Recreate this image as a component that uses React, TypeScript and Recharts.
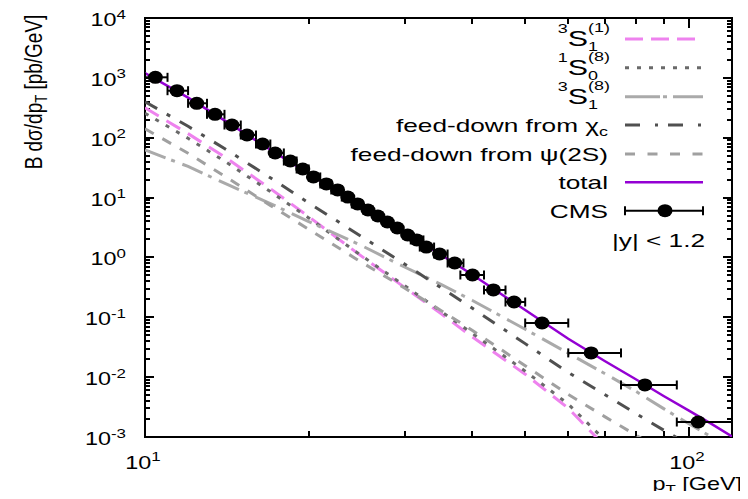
import React from "react";
import { ComposedChart, Line, Scatter, XAxis, YAxis, ErrorBar } from "recharts";

// ---- theory curves (pT grid, GeV) ----
const PT = [10, 12, 14, 17, 20, 25, 30, 35, 40, 50, 60, 70, 80, 90, 100, 110, 120];
const TOTAL = [1200, 468, 195, 63.1, 25.1, 7.08, 2.63, 1.11, 0.513, 0.132, 0.0437, 0.0186, 0.00912, 0.00479, 0.00275, 0.00166, 0.00102];
const CHIC = [400, 155, 66.1, 21.4, 8.13, 2.24, 0.776, 0.313, 0.141, 0.0363, 0.012, 0.00513, 0.00245, 0.00129, 0.00074, 0.000447, 0.000275];
const PSI2S = [141, 55.0, 22.9, 7.41, 2.95, 0.832, 0.309, 0.13, 0.0603, 0.0155, 0.00513, 0.00219, 0.00107, 0.000562, 0.000324, null, null];
const S31_8 = [62.4, 33.1, 17.4, 7.94, 3.98, 1.58, 0.692, 0.355, 0.191, 0.0631, 0.0251, 0.0115, 0.00575, 0.00295, 0.00166, 0.001, 0.000617];
const S31_1 = [316, 117, 47.9, 14.1, 4.79, 1.05, 0.316, 0.115, 0.0468, 0.0112, 0.00302, 0.000708, null, null, null, null, null];
const S10_8 = [257, 97.7, 40.7, 12.6, 4.57, 1.07, 0.339, 0.126, 0.0537, 0.0126, 0.00355, 0.000891, null, null, null, null, null];

// ---- CMS data, |y| < 1.2 ----
const CMS_PT = [10.45, 11.45, 12.45, 13.45, 14.45, 15.4, 16.45, 17.35, 18.5, 19.5, 20.4, 21.55, 22.6, 23.6, 24.6, 25.7, 26.8, 27.9, 29.1, 30.4, 31.6, 32.9, 34.8, 37.1, 40.0, 43.7, 47.7, 53.7, 66.1, 83.0, 104.0];
const CMS_Y = [1021, 610, 376, 246, 163, 111, 78.5, 55.6, 40.8, 30.0, 22.1, 16.9, 13.4, 10.2, 7.82, 6.2, 4.92, 3.91, 3.1, 2.37, 1.96, 1.49, 1.14, 0.807, 0.509, 0.286, 0.18, 0.0803, 0.0254, 0.0074, 0.00178];
const CMS_LO = [10, 11, 12, 13, 14, 15, 16, 17, 18, 19, 20, 21, 22, 23, 24, 25.2, 26.3, 27.4, 28.6, 29.9, 30.8, 32, 34, 36, 38, 42, 46, 50, 60, 75, 95];
const CMS_HI = [11, 12, 13, 14, 15, 16, 17, 18, 19, 20, 21, 22, 23, 24, 25, 26.2, 27.3, 28.4, 29.6, 30.9, 32.5, 34, 36, 38.5, 42, 46, 50, 60, 75, 95, 120];

// ---- axes ----
const X_DOMAIN = [10, 120];
const Y_DOMAIN = [0.001, 10000];
const X_TICKS = [10, 20, 30, 40, 50, 60, 70, 80, 90, 100];
const X_MAJOR = [10, 100];
const X_LABELS = ["1", "2"];
const Y_MAJOR = [0.001, 0.01, 0.1, 1, 10, 100, 1000, 10000];
const Y_LABELS = ["-3", "-2", "-1", "0", "1", "2", "3", "4"];
const Y_TICKS: number[] = [];
Y_MAJOR.forEach((d, i) => {
  Y_TICKS.push(d);
  if (i < Y_MAJOR.length - 1) for (let k = 2; k <= 9; k++) Y_TICKS.push(+(d * k).toPrecision(6));
});

const W = 748;
const H = 499;
const PLOT = { left: 145, right: 732, top: 18, bottom: 437 };
const FONT = "'Liberation Sans', Arial, Helvetica, sans-serif";
const SX = 1.3;
const LSX = 1.38;

const curveData = PT.map((pt, i) => ({
  pt,
  total: TOTAL[i],
  chic: CHIC[i],
  psi2s: PSI2S[i],
  s31_8: S31_8[i],
  s31_1: S31_1[i],
  s10_8: S10_8[i],
}));

const cmsData = CMS_PT.map((pt, i) => ({
  pt,
  y: CMS_Y[i],
  xerr: [+(pt - CMS_LO[i]).toFixed(3), +(CMS_HI[i] - pt).toFixed(3)],
}));

// log-axis pixel mapping for the frame tick marks (same domain/range as the chart axes)
const xPix = (v: number) =>
  PLOT.left + ((PLOT.right - PLOT.left) * Math.log10(v / X_DOMAIN[0])) / Math.log10(X_DOMAIN[1] / X_DOMAIN[0]);
const yPix = (v: number) =>
  PLOT.bottom - ((PLOT.bottom - PLOT.top) * Math.log10(v / Y_DOMAIN[0])) / Math.log10(Y_DOMAIN[1] / Y_DOMAIN[0]);

function XTickLabel(props: any) {
  const { x, payload } = props;
  const mi = X_MAJOR.findIndex((a) => Math.abs(a - payload.value) < 1e-9);
  if (mi < 0) return <g />;
  return (
    <text transform={`translate(${x - 2},${PLOT.bottom + 32}) scale(${SX},1)`} textAnchor="middle" fontFamily={FONT} fontSize={18} fill="#000">
      10<tspan fontSize={13} dy={-8}>{X_LABELS[mi]}</tspan>
    </text>
  );
}

function YTickLabel(props: any) {
  const { y, payload } = props;
  const mi = Y_MAJOR.findIndex((a) => Math.abs(a - payload.value) / a < 1e-6);
  if (mi < 0) return <g />;
  return (
    <text transform={`translate(${PLOT.left - 19},${y + 8}) scale(${SX},1)`} textAnchor="end" fontFamily={FONT} fontSize={18} fill="#000">
      10<tspan fontSize={13} dy={-7.5}>{Y_LABELS[mi]}</tspan>
    </text>
  );
}

const CmsDot = (p: any) => <ellipse cx={p.cx} cy={p.cy} rx={7.5} ry={6.5} fill="#000" />;

const LEG_X1 = 625;
const LEG_X2 = 703;
const LEG_TX = 608;
const ROWS = [39, 67.7, 96.7, 125, 154, 182.3, 210.7];

function SLabel({ y, pre, sub, sup }: { y: number; pre: string; sub: string; sup: string }) {
  return (
    <text transform={`translate(${LEG_TX + 2},${y + 7}) scale(${LSX},1)`} textAnchor="end" fontFamily={FONT} fontSize={19} fill="#000">
      <tspan fontSize={13} dy={-13}>{pre}</tspan>
      <tspan dy={13} fontSize={22}>S</tspan>
      <tspan fontSize={13} dy={5}>{sub}</tspan>
      <tspan fontSize={13} dx={-7.2} dy={-19}>{sup}</tspan>
    </text>
  );
}

function PlainLabel({ y, children, x = LEG_TX }: any) {
  return (
    <text transform={`translate(${x},${y + 7}) scale(${LSX},1)`} textAnchor="end" fontFamily={FONT} fontSize={19} fill="#000">
      {children}
    </text>
  );
}

function FrameTicks() {
  const isYMajor = (v: number) => Y_MAJOR.some((a) => Math.abs(a - v) / a < 1e-6);
  const marks: React.ReactNode[] = [];
  X_TICKS.forEach((v) => {
    const x = Math.round(xPix(v));
    const len = X_MAJOR.includes(v) ? 10 : 6;
    marks.push(<rect key={`xb${v}`} x={x - 1} y={PLOT.bottom - len} width={2} height={len} fill="#000" />);
    marks.push(<rect key={`xt${v}`} x={x - 1} y={PLOT.top} width={2} height={len} fill="#000" />);
  });
  Y_TICKS.forEach((v) => {
    const y = Math.round(yPix(v));
    const len = isYMajor(v) ? 9 : 5;
    marks.push(<rect key={`yl${v}`} x={PLOT.left} y={y - 1} width={len} height={2} fill="#000" />);
    marks.push(<rect key={`yr${v}`} x={PLOT.right - len} y={y - 1} width={len} height={2} fill="#000" />);
  });
  return <g>{marks}</g>;
}

function Overlay() {
  const sample = (y: number, stroke: string, dash?: string, w = 3) => (
    <line x1={LEG_X1} x2={LEG_X2} y1={y} y2={y} stroke={stroke} strokeWidth={w} strokeDasharray={dash} />
  );
  return (
    <g>
      <FrameTicks />
      <rect x={PLOT.left} y={PLOT.top} width={PLOT.right - PLOT.left} height={PLOT.bottom - PLOT.top} fill="none" stroke="#000" strokeWidth={2} />
      <SLabel y={ROWS[0]} pre="3" sub="1" sup="(1)" />
      {sample(ROWS[0], "#ee82ee", "18 8")}
      <SLabel y={ROWS[1]} pre="1" sub="0" sup="(8)" />
      {sample(ROWS[1], "#6a6a6a", "4 8")}
      <SLabel y={ROWS[2]} pre="3" sub="1" sup="(8)" />
      {sample(ROWS[2], "#aaaaaa", "35 3 4 6")}
      <PlainLabel y={ROWS[3]}>
        feed-down from χ<tspan fontSize={13} dy={4}>c</tspan>
      </PlainLabel>
      {sample(ROWS[3], "#505050", "15 15 3 10")}
      <PlainLabel y={ROWS[4]}>feed-down from ψ(2S)</PlainLabel>
      {sample(ROWS[4], "#a0a0a0", "10 12.5")}
      <PlainLabel y={ROWS[5]}>total</PlainLabel>
      <line x1={LEG_X1} x2={LEG_X2} y1={ROWS[5]} y2={ROWS[5]} stroke="#9400d3" strokeWidth={2.5} />
      <PlainLabel y={ROWS[6]}>CMS</PlainLabel>
      <line x1={LEG_X1} x2={LEG_X2} y1={ROWS[6]} y2={ROWS[6]} stroke="#000" strokeWidth={2} />
      <line x1={LEG_X1} x2={LEG_X1} y1={ROWS[6] - 4.5} y2={ROWS[6] + 4.5} stroke="#000" strokeWidth={2} />
      <line x1={LEG_X2} x2={LEG_X2} y1={ROWS[6] - 4.5} y2={ROWS[6] + 4.5} stroke="#000" strokeWidth={2} />
      <ellipse cx={665} cy={ROWS[6]} rx={7.5} ry={6.5} fill="#000" />
      <PlainLabel y={240} x={705}>|y| &lt; 1.2</PlainLabel>
      {/* axis titles */}
      <text transform={`translate(42,92) scale(${SX},1) rotate(-90)`} textAnchor="middle" fontFamily={FONT} fontSize={19} fill="#000">
        B dσ/dp<tspan fontSize={13} dy={4}>T</tspan>
        <tspan dy={-4}> [pb/GeV]</tspan>
      </text>
      <text transform={`translate(742,490) scale(${SX},1)`} textAnchor="end" fontFamily={FONT} fontSize={18} fill="#000">
        p<tspan fontSize={13} dy={4}>T</tspan>
        <tspan dy={-4}> [GeV]</tspan>
      </text>
    </g>
  );
}

export default function App() {
  return (
    <div style={{ width: W, height: H, margin: -8 }}>
      <ComposedChart width={W} height={H} data={curveData} margin={{ top: PLOT.top, right: W - PLOT.right, bottom: 0, left: 0 }}>
        <XAxis
          dataKey="pt"
          type="number"
          scale="log"
          domain={X_DOMAIN}
          allowDataOverflow
          ticks={X_TICKS}
          interval={0}
          tickSize={0}
          tickMargin={0}
          tickLine={false}
          axisLine={false}
          tick={<XTickLabel />}
          height={H - PLOT.bottom}
        />
        <YAxis
          type="number"
          scale="log"
          domain={Y_DOMAIN}
          allowDataOverflow
          ticks={Y_TICKS}
          interval={0}
          tickSize={0}
          tickMargin={0}
          tickLine={false}
          axisLine={false}
          tick={<YTickLabel />}
          width={PLOT.left}
        />
        <Line dataKey="s31_1" stroke="#ee82ee" strokeWidth={3} strokeDasharray="16 9" dot={false} isAnimationActive={false} />
        <Line dataKey="s10_8" stroke="#6a6a6a" strokeWidth={3} strokeDasharray="4 8" dot={false} isAnimationActive={false} />
        <Line dataKey="s31_8" stroke="#aaaaaa" strokeWidth={3} strokeDasharray="22 6 4 8" dot={false} isAnimationActive={false} />
        <Line dataKey="chic" stroke="#505050" strokeWidth={3} strokeDasharray="14 11 4 11" dot={false} isAnimationActive={false} />
        <Line dataKey="psi2s" stroke="#a0a0a0" strokeWidth={3} strokeDasharray="10 10" dot={false} isAnimationActive={false} />
        <Line dataKey="total" stroke="#9400d3" strokeWidth={2.5} dot={false} isAnimationActive={false} />
        <Scatter data={cmsData} dataKey="y" shape={<CmsDot />} isAnimationActive={false}>
          <ErrorBar dataKey="xerr" direction="x" width={4.5} stroke="#000" strokeWidth={2} isAnimationActive={false} />
        </Scatter>
        <Overlay />
      </ComposedChart>
    </div>
  );
}
